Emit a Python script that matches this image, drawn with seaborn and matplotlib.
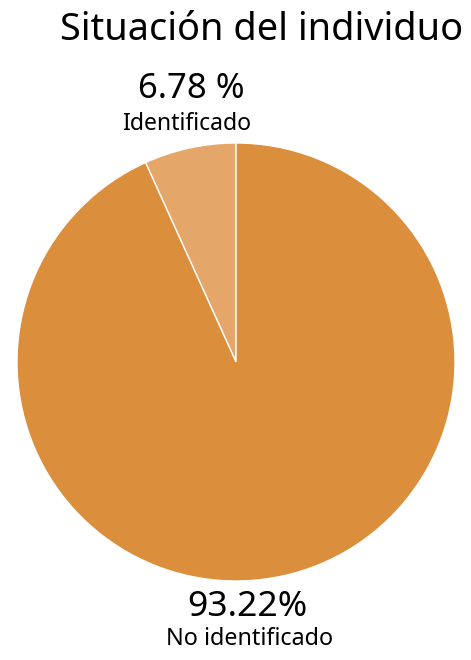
import matplotlib
matplotlib.use("Agg")
import matplotlib.pyplot as plt
import seaborn as sns

sns.set_theme(style="white")
plt.rcParams['font.family'] = ['Noto Sans', 'DejaVu Sans']

categories = ["Identificado", "No identificado"]
values = [6.78, 93.22]
value_labels = ["6.78 %", "93.22%"]
colors = ["#E5A66A", "#DB8E3C"]

W, H = 471, 660
fig = plt.figure(figsize=(W / 100, H / 100), dpi=100)
fig.patch.set_facecolor("white")

cx, cy, r = 236, 362, 219
ax = fig.add_axes([(cx - r) / W, (H - cy - r) / H, 2 * r / W, 2 * r / H])
ax.pie(values, colors=colors, startangle=90, counterclock=True,
       wedgeprops=dict(edgecolor="white", linewidth=1))
ax.set_aspect("equal")
ax.set_xlim(-1, 1)
ax.set_ylim(-1, 1)

fig.text(463 / W, 1 - 30 / H, "Situación del individuo", ha="right", va="center",
         fontsize=27.3, color="black")
fig.text(191 / W, 1 - 89 / H, value_labels[0], ha="center", va="center", fontsize=25, color="black")
fig.text(187 / W, 1 - 124 / H, categories[0], ha="center", va="center", fontsize=16.6, color="black")
fig.text(247 / W, 1 - 607 / H, value_labels[1], ha="center", va="center", fontsize=25.5, color="black")
fig.text(250 / W, 1 - 639 / H, categories[1], ha="center", va="center", fontsize=16.8, color="black")

fig.savefig("out.png", dpi=100, facecolor="white")
